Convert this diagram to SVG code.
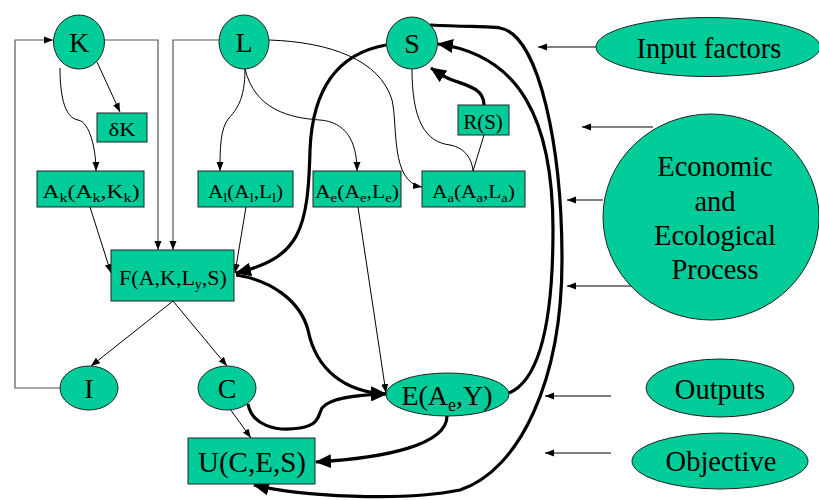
<svg xmlns="http://www.w3.org/2000/svg" width="819" height="500" viewBox="0 0 819 500">
<defs>
<marker id="ah" markerUnits="userSpaceOnUse" markerWidth="10" markerHeight="8" refX="9" refY="4" orient="auto"><path d="M0,0.5 L9,4 L0,7.5 z" fill="#000"/></marker>
<marker id="ahb" markerUnits="userSpaceOnUse" markerWidth="17" markerHeight="14" refX="15" refY="7" orient="auto"><path d="M0,0 L16,7 L0,14 z" fill="#000"/></marker>
<style>
.n{fill:#00CC99;stroke:#222;stroke-width:1}
.t{fill:#000;text-anchor:middle}
.thin{fill:none;stroke:#000;stroke-width:1}
.gray{fill:none;stroke:#555;stroke-width:1.2}
.thick{fill:none;stroke:#000;stroke-width:3.2}
</style>
</defs>
<rect width="819" height="500" fill="#fff"/>
<g id="connectors">
<path class="thin" d="M97,62 L120,112" marker-end="url(#ah)"/>
<path class="thin" d="M60,68 C60,100 66,118 78,120 C90,122 96,150 96,171" marker-end="url(#ah)"/>
<path class="gray" d="M104,40 L158,40 L158,250" marker-end="url(#ah)"/>
<path class="gray" d="M219,40 L173,40 L173,250" marker-end="url(#ah)"/>
<path class="gray" d="M60,388 L15,388 L15,40 L53,40" marker-end="url(#ah)"/>
<path class="thin" d="M245,69 C245,100 236,110 229,118 C220,128 220,150 220,171" marker-end="url(#ah)"/>
<path class="thin" d="M245,69 C255,110 290,118 320,120 C345,122 357,140 357,171" marker-end="url(#ah)"/>
<path class="thin" d="M269,40 C330,42 380,60 392,100 C398,125 390,182 422,187" marker-end="url(#ah)"/>
<path class="thin" d="M412,69 C412,120 425,142 450,145 C466,148 472,160 473,171"/>
<path class="thin" d="M484,135 L473,171"/>
<path class="thin" d="M90,207 L111,273" marker-end="url(#ah)"/>
<path class="thin" d="M246,207 L235,273" marker-end="url(#ah)"/>
<path class="thin" d="M358,207 L386,393" marker-end="url(#ah)"/>
<path class="thin" d="M173,301 L91,366" marker-end="url(#ah)"/>
<path class="thin" d="M173,301 L227,366" marker-end="url(#ah)"/>
<path class="thin" d="M230,409 L251,438" marker-end="url(#ah)"/>
<path class="thick" d="M386,45 C330,55 312,100 310,150 C308,230 300,258 236,273" marker-end="url(#ahb)"/>
<path class="thick" d="M236,275 C270,280 300,300 308,330 C316,370 345,392 386,394" marker-end="url(#ahb)"/>
<path class="thick" d="M248,404 C252,425 275,432 300,428 C320,425 318,415 322,408 C330,398 355,395 386,394" marker-end="url(#ahb)"/>
<path class="thick" d="M447,416 C447,445 385,458 316,462" marker-end="url(#ahb)"/>
<path class="thick" d="M509,393 C540,380 553,320 553,230 C553,120 520,55 438,44" marker-end="url(#ahb)"/>
<path class="thick" d="M430,25 C470,27 490,26 500,28 C540,35 562,150 562,260 C562,380 520,470 460,490 C400,502 300,496 254,485" marker-end="url(#ahb)"/>
<path class="thick" d="M484,105 C484,90 470,86 455,81 C445,78 440,74 431,68" marker-end="url(#ahb)"/>
<path class="thin" d="M596,47 L538,47" marker-end="url(#ah)"/>
<path class="thin" d="M653,127 L582,127" marker-end="url(#ah)"/>
<path class="thin" d="M603,200 L567,200" marker-end="url(#ah)"/>
<path class="thin" d="M632,286 L567,286" marker-end="url(#ah)"/>
<path class="thin" d="M611,396 L545,396" marker-end="url(#ah)"/>
<path class="thin" d="M611,453 L545,453" marker-end="url(#ah)"/>
</g>
<g font-family="Liberation Serif, Times New Roman, DejaVu Serif, serif">
<g id="K"><ellipse class="n" cx="79" cy="42" rx="25.5" ry="27"/><text class="t" x="79" y="52" font-size="28">K</text></g>
<g id="L"><ellipse class="n" cx="244" cy="42" rx="25" ry="27"/><text class="t" x="244" y="52" font-size="28">L</text></g>
<g id="S"><ellipse class="n" cx="412" cy="43" rx="25.5" ry="26"/><text class="t" x="412" y="53" font-size="28">S</text></g>
<g id="dK"><rect class="n" x="97" y="113" width="50" height="29"/><text class="t" x="122" y="136" font-size="18" textLength="27" lengthAdjust="spacingAndGlyphs">δK</text></g>
<g id="RS"><rect class="n" x="458" y="105" width="51" height="30"/><text class="t" x="483" y="129" font-size="21">R(S)</text></g>
<g id="Ak"><rect class="n" x="37" y="171" width="107" height="36"/><text class="t" x="91" y="198" font-size="19" textLength="97" lengthAdjust="spacingAndGlyphs">A<tspan font-size="13" dy="4">k</tspan><tspan dy="-4">(A</tspan><tspan font-size="13" dy="4">k</tspan><tspan dy="-4">,K</tspan><tspan font-size="13" dy="4">k</tspan><tspan dy="-4">)</tspan></text></g>
<g id="Al"><rect class="n" x="198" y="171" width="95" height="36"/><text class="t" x="245.5" y="198" font-size="19" textLength="75" lengthAdjust="spacingAndGlyphs">A<tspan font-size="13" dy="4">l</tspan><tspan dy="-4">(A</tspan><tspan font-size="13" dy="4">l</tspan><tspan dy="-4">,L</tspan><tspan font-size="13" dy="4">l</tspan><tspan dy="-4">)</tspan></text></g>
<g id="Ae"><rect class="n" x="313" y="171" width="88" height="36"/><text class="t" x="357" y="198" font-size="19" textLength="84" lengthAdjust="spacingAndGlyphs">A<tspan font-size="13" dy="4">e</tspan><tspan dy="-4">(A</tspan><tspan font-size="13" dy="4">e</tspan><tspan dy="-4">,L</tspan><tspan font-size="13" dy="4">e</tspan><tspan dy="-4">)</tspan></text></g>
<g id="Aa"><rect class="n" x="422" y="171" width="103" height="36"/><text class="t" x="473.5" y="198" font-size="19" textLength="83" lengthAdjust="spacingAndGlyphs">A<tspan font-size="13" dy="4">a</tspan><tspan dy="-4">(A</tspan><tspan font-size="13" dy="4">a</tspan><tspan dy="-4">,L</tspan><tspan font-size="13" dy="4">a</tspan><tspan dy="-4">)</tspan></text></g>
<g id="F"><rect class="n" x="111" y="250" width="123" height="51"/><text class="t" x="173" y="285" font-size="22">F(A,K,L<tspan font-size="14" dy="4">y</tspan><tspan dy="-4">,S)</tspan></text></g>
<g id="I"><ellipse class="n" cx="89" cy="388" rx="29" ry="22"/><text class="t" x="89" y="398" font-size="28">I</text></g>
<g id="C"><ellipse class="n" cx="227" cy="388" rx="29" ry="22"/><text class="t" x="227" y="398" font-size="28">C</text></g>
<g id="E"><ellipse class="n" cx="447.5" cy="394.5" rx="61.5" ry="21.5"/><text class="t" x="447" y="405" font-size="28">E(A<tspan font-size="18" dy="6">e</tspan><tspan dy="-6">,Y)</tspan></text></g>
<g id="U"><rect class="n" x="188" y="438" width="127" height="46"/><text class="t" x="252" y="472" font-size="29">U(C,E,S)</text></g>
<g id="input"><ellipse class="n" cx="708" cy="47" rx="112" ry="29.5"/><text class="t" x="709" y="58" font-size="28.5">Input factors</text></g>
<g id="process"><ellipse class="n" cx="711" cy="217" rx="108" ry="103"/><text class="t" font-size="28.5"><tspan x="715" y="176">Economic</tspan><tspan x="715" y="211">and</tspan><tspan x="715" y="245">Ecological</tspan><tspan x="715" y="279">Process</tspan></text></g>
<g id="outputs"><ellipse class="n" cx="720" cy="388" rx="74" ry="29"/><text class="t" x="720" y="399" font-size="28.5">Outputs</text></g>
<g id="objective"><ellipse class="n" cx="720" cy="461" rx="88" ry="28"/><text class="t" x="721" y="471" font-size="28.5">Objective</text></g>
</g>
</svg>
